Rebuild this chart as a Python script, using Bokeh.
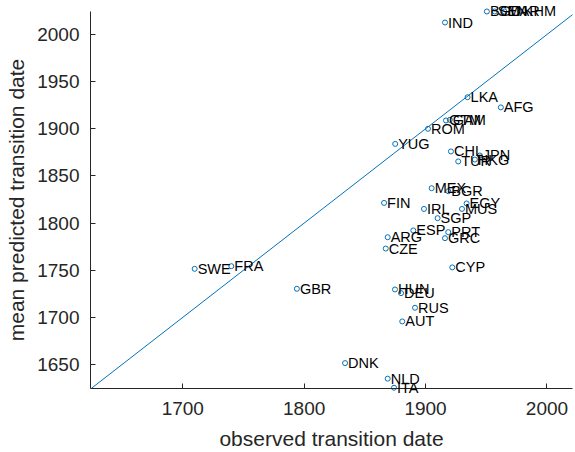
from bokeh.plotting import figure
from bokeh.models import ColumnDataSource, Range1d, FixedTicker, LabelSet
from bokeh.core.properties import value
from bokeh.embed import file_html
from bokeh.resources import INLINE

countries = ["BGD", "SEN", "MAR", "KHM", "IND", "LKA", "AFG", "GTM", "GAM", "ROM",
             "YUG", "CHL", "TUR", "HKG", "JPN", "MEX", "BGR", "EGY", "MUS", "FIN",
             "IRL", "SGP", "ESP", "PRT", "ARG", "GRC", "CZE", "CYP", "SWE", "FRA",
             "GBR", "HUN", "DEU", "RUS", "AUT", "DNK", "NLD", "ITA"]
observed = [1950.5, 1957, 1965, 1978.4, 1916, 1934.6, 1962, 1916.8, 1920, 1902,
            1875, 1920.9, 1926.9, 1940.6, 1944.7, 1905, 1918.7, 1933.8, 1930, 1865.8,
            1898.7, 1909.9, 1889.9, 1918.7, 1868.8, 1916, 1867.2, 1922, 1709.8, 1740,
            1794, 1874.8, 1879.8, 1891.3, 1880.8, 1833.7, 1868.8, 1874]
predicted = [2024.4, 2024.4, 2024.4, 2024.4, 2012.7, 1933.5, 1922.7, 1908.8, 1909.5, 1900,
             1884, 1876, 1865.4, 1867.4, 1871.7, 1837, 1833.8, 1820.8, 1815, 1821.4,
             1815, 1805.2, 1792.2, 1790.4, 1785, 1784, 1773, 1753, 1751.5, 1754.3,
             1730.3, 1729.6, 1725.7, 1710.2, 1695.7, 1651.5, 1635, 1625.4]
x_lim = (1624, 2021)
y_lim = (1625, 2024.4)
diag = [1625, 2021]
x_ticks = [1700, 1800, 1900, 2000]
y_ticks = [1650, 1700, 1750, 1800, 1850, 1900, 1950, 2000]

AX = "#262626"
BLUE = "#0072BD"
FONT = "Liberation Sans"

# canvas-wide frame so that labels near the axes are not clipped
p = figure(width=575, height=452, output_backend="svg", toolbar_location=None,
           x_range=Range1d(1549.87, 2023.5), y_range=Range1d(1556.7, 2036.06),
           min_border=0, title=None)
p.outline_line_color = None
p.grid.grid_line_color = None
p.background_fill_color = "white"
p.border_fill_color = "white"

p.line(diag, diag, line_color=BLUE, line_width=1)

src = ColumnDataSource(dict(x=observed, y=predicted, t=countries))
p.scatter("x", "y", source=src, marker="circle", size=5, fill_color=None,
          line_color=BLUE, line_width=1)
labels = LabelSet(x="x", y="y", text="t", source=src, x_offset=3,
                  text_baseline="middle", text_align="left", text_font_size="14.5px",
                  text_color="black", text_font=value(FONT))
p.add_layout(labels)

for ax, ticks, bnds in ((p.xaxis[0], x_ticks, x_lim), (p.yaxis[0], y_ticks, y_lim)):
    ax.ticker = FixedTicker(ticks=ticks)
    ax.bounds = bnds
    ax.minor_tick_line_color = None
    ax.major_tick_in = 5
    ax.major_tick_out = 0
    ax.axis_line_color = AX
    ax.major_tick_line_color = AX
    ax.major_label_text_color = AX
    ax.major_label_text_font = FONT
    ax.major_label_text_font_size = "19px"
    ax.axis_label_text_font = FONT
    ax.axis_label_text_font_size = "21px"
    ax.axis_label_text_font_style = "normal"
    ax.axis_label_text_color = AX

p.xaxis.fixed_location = y_lim[0]
p.yaxis.fixed_location = x_lim[0]
p.xaxis.major_label_standoff = 14
p.yaxis.major_label_standoff = 11
p.xaxis.axis_label = "observed transition date"
p.yaxis.axis_label = "mean predicted transition date"
p.xaxis.axis_label_standoff = 8
p.yaxis.axis_label_standoff = 6

open("out.html", "w").write(file_html(p, INLINE))
